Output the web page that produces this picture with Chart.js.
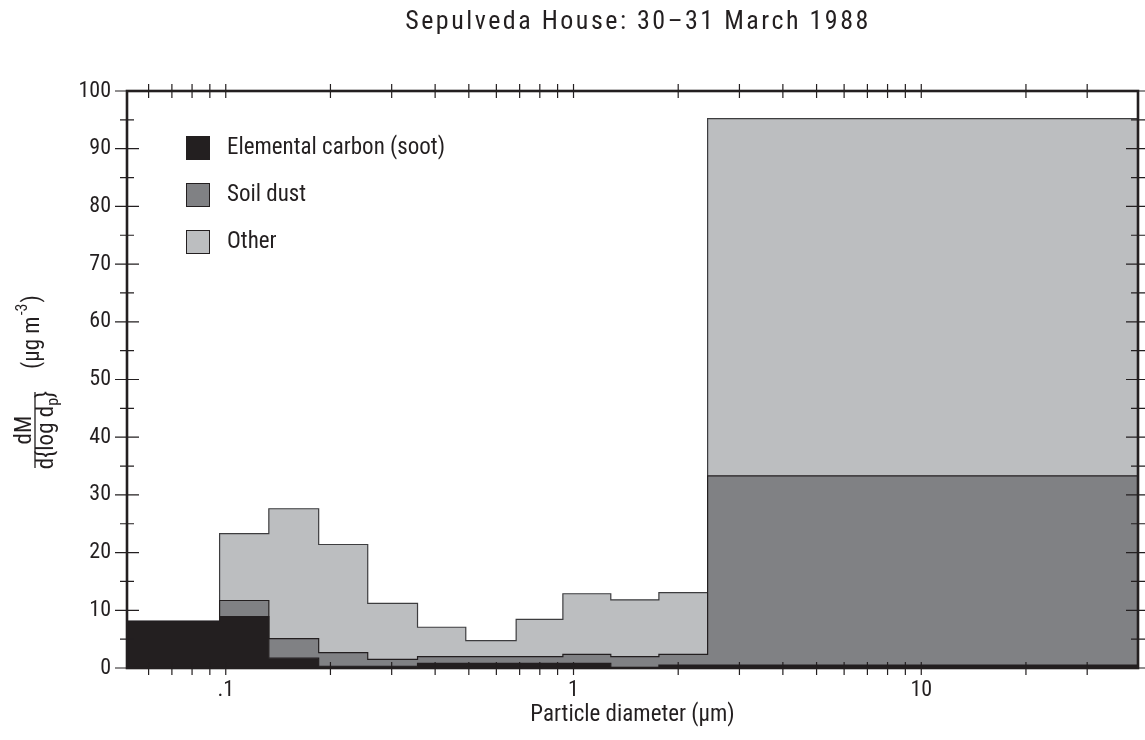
<!DOCTYPE html>
<html>
<head>
<meta charset="utf-8">
<script src="https://cdn.jsdelivr.net/npm/chart.js@4.4.1/dist/chart.umd.min.js"></script>
<style>
  html, body { margin: 0; padding: 0; background: #fff; }
  #wrap { width: 1145px; height: 740px; }
</style>
</head>
<body>
<div id="wrap"><canvas id="chart" width="1145" height="740"></canvas></div>
<script>
// size bins (particle diameter, um) - edges
var binEdges = [0.052, 0.096, 0.133, 0.185, 0.256, 0.356, 0.49, 0.684, 0.932, 1.28, 1.76, 2.43, 42];

// dM/dlog(dp) per bin, ug/m3, each component on its own (stacked in the chart)
var sootValues  = [8.1, 8.9, 1.7, 0.3, 0.3, 0.8, 0.8, 0.8, 0.8, 0.0, 0.5, 0.5];
var dustValues  = [0.0, 2.8, 3.4, 2.35, 1.2, 1.16, 1.16, 1.16, 1.57, 1.96, 1.87, 32.8];
var otherValues = [0.0, 11.6, 22.5, 18.75, 9.7, 5.1, 2.8, 6.45, 10.5, 9.85, 10.7, 61.9];

var seriesNames = ['Elemental carbon (soot)', 'Soil dust', 'Other'];
var seriesColors = ['#231f20', '#808184', '#bcbec0'];

// axis ticks
var xTickValues = [0.06, 0.07, 0.08, 0.09, 0.1, 0.2, 0.3, 0.4, 0.5, 0.6, 0.7, 0.8, 0.9,
                   1, 2, 3, 4, 5, 6, 7, 8, 9, 10, 20, 30];
var xTickLabels = { 0.1: '.1', 1: '1', 10: '10' };
var yTickValues = [0, 10, 20, 30, 40, 50, 60, 70, 80, 90, 100];

var FONT = "'Liberation Sans Narrow', 'Arial Narrow', 'Roboto Condensed', 'DejaVu Sans Condensed', sans-serif";
var INK = '#231f20';

// turn a bin list into step points: one point per left edge, plus the last right edge
function steps(values) {
  return binEdges.map(function (e, i) {
    return { x: e, y: values[Math.min(i, values.length - 1)] };
  });
}

function layer(i, values, fill) {
  return {
    label: seriesNames[i],
    data: steps(values),
    stepped: 'before',
    fill: fill,
    backgroundColor: seriesColors[i],
    borderColor: i === 2 ? '#3d3d3f' : INK,
    borderWidth: 1.2,
    pointRadius: 0
  };
}

// frame, crossing tick marks, legend, title and the fraction-style y label
var decor = {
  id: 'decor',
  afterDatasetsDraw: function (chart) {
    var ctx = chart.ctx, a = chart.chartArea;
    var x = chart.scales.x, y = chart.scales.y;
    ctx.save();
    ctx.strokeStyle = INK;
    ctx.lineWidth = 1.2;
    ctx.beginPath();
    x.ticks.forEach(function (t) {
      var px = x.getPixelForValue(t.value);
      ctx.moveTo(px, a.bottom - 6); ctx.lineTo(px, a.bottom + 7);
      ctx.moveTo(px, a.top - 7); ctx.lineTo(px, a.top + 7);
    });
    for (var v = 0; v <= 100; v += 5) {
      var py = y.getPixelForValue(v);
      var len = v % 10 === 0 ? 12 : 7;
      ctx.moveTo(a.left - len, py); ctx.lineTo(a.left + len, py);
      ctx.moveTo(a.right - len, py); ctx.lineTo(a.right + len, py);
    }
    ctx.stroke();
    ctx.lineWidth = 2.6;
    ctx.strokeRect(a.left, a.top, a.right - a.left, a.bottom - a.top);

    // legend
    ctx.font = '23px ' + FONT;
    ctx.textBaseline = 'middle';
    ctx.textAlign = 'left';
    ctx.lineWidth = 1;
    seriesNames.forEach(function (name, i) {
      var top = a.top + 45 + i * 47;
      ctx.fillStyle = seriesColors[i];
      ctx.fillRect(a.left + 59, top, 24, 24);
      ctx.strokeRect(a.left + 59.5, top + 0.5, 23, 23);
      ctx.fillStyle = INK;
      ctx.fillText(name, a.left + 100, top + 12);
    });

    // title
    ctx.font = '26px ' + FONT;
    ctx.textAlign = 'center';
    ctx.letterSpacing = '2.5px';
    ctx.fillText('Sepulveda House: 30\u201331 March 1988', 638, 22);
    ctx.letterSpacing = '0px';

    // y axis label, rotated
    ctx.translate(35, 375);
    ctx.rotate(-Math.PI / 2);
    ctx.textBaseline = 'alphabetic';
    ctx.font = '23px ' + FONT;
    ctx.textAlign = 'center';
    ctx.fillText('dM', -55, -4);
    ctx.lineWidth = 1.3;
    ctx.beginPath(); ctx.moveTo(-93, 0); ctx.lineTo(-17, 0); ctx.stroke();
    ctx.textAlign = 'left';
    var d1 = 'd{log d', w1 = ctx.measureText(d1).width;
    ctx.font = '16px ' + FONT;
    var wp = ctx.measureText('p').width;
    ctx.font = '23px ' + FONT;
    var wb = ctx.measureText('}').width;
    var sx = -55 - (w1 + wp + wb) / 2;
    ctx.fillText(d1, sx, 18);
    ctx.font = '16px ' + FONT;
    ctx.fillText('p', sx + w1, 23);
    ctx.font = '23px ' + FONT;
    ctx.fillText('}', sx + w1 + wp, 18);
    var u1 = '(\u00b5g m';
    ctx.fillText(u1, 6, 4);
    var wu = ctx.measureText(u1).width;
    ctx.font = '16px ' + FONT;
    ctx.fillText('-3', 6 + wu + 1, -8);
    var w3 = ctx.measureText('-3').width;
    ctx.font = '23px ' + FONT;
    ctx.fillText(')', 6 + wu + w3 + 2, 4);
    ctx.restore();
  }
};

new Chart(document.getElementById('chart'), {
  type: 'line',
  data: {
    datasets: [
      layer(0, sootValues, 'origin'),
      layer(1, dustValues, '-1'),
      layer(2, otherValues, '-1')
    ]
  },
  options: {
    responsive: false,
    animation: false,
    devicePixelRatio: 1,
    layout: { padding: { top: 91, right: 7, left: 0, bottom: 0 } },
    plugins: { legend: { display: false }, title: { display: false }, tooltip: { enabled: false } },
    scales: {
      x: {
        type: 'logarithmic',
        min: 0.052,
        max: 42,
        grid: { display: false, drawTicks: false },
        border: { display: false },
        afterBuildTicks: function (scale) {
          scale.ticks = xTickValues.map(function (v) { return { value: v }; });
        },
        afterFit: function (scale) { scale.height = 72; },
        ticks: {
          autoSkip: false,
          maxRotation: 0,
          padding: 9,
          color: INK,
          font: { family: FONT, size: 22 },
          callback: function (value) { return xTickLabels[value] || ''; }
        },
        title: {
          display: true,
          text: 'Particle diameter (\u00b5m)',
          color: INK,
          font: { family: FONT, size: 23 },
          padding: { top: 0, bottom: 11 }
        }
      },
      y: {
        stacked: true,
        min: 0,
        max: 100,
        grid: { display: false, drawTicks: false },
        border: { display: false },
        afterBuildTicks: function (scale) {
          scale.ticks = yTickValues.map(function (v) { return { value: v }; });
        },
        afterFit: function (scale) { scale.width = 127; },
        ticks: {
          padding: 16,
          color: INK,
          font: { family: FONT, size: 22 }
        }
      }
    }
  },
  plugins: [decor]
});
</script>
</body>
</html>
